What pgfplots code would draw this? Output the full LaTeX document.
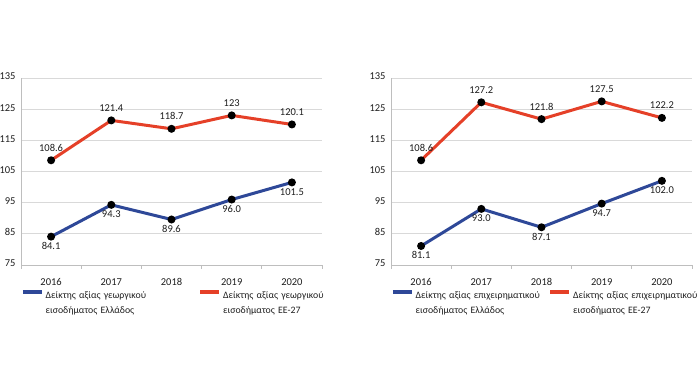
\documentclass[border=0pt]{standalone}
\usepackage{pgfplots}
\pgfplotsset{compat=1.18}
\usepackage{fontspec}
\setmainfont{Carlito}
\definecolor{cred}{RGB}{229,64,40}
\definecolor{cblue}{RGB}{46,72,152}
\definecolor{cgrid}{RGB}{217,217,217}
\definecolor{caxis}{RGB}{190,190,190}
\definecolor{ctext}{RGB}{30,30,30}
\pgfplotsset{mystyle/.style={
  scale only axis, width=301pt, height=187pt, anchor=south west,
  xmin=-0.5, xmax=4.5, ymin=75, ymax=135, ytick={75,85,...,135},
  xtick={0,1,2,3,4}, xticklabels={2016,2017,2018,2019,2020},
  minor xtick={-0.5,0.5,1.5,2.5,3.5,4.5},
  axis x line*=bottom, axis y line*=left, axis line style={caxis,-,line width=0.8pt},
  ymajorgrids, grid style={cgrid, line width=0.8pt},
  major tick length=0pt, minor tick length=4pt, tick align=outside,
  minor tick style={caxis, line width=0.8pt},
  /pgf/number format/assume math mode=true,
  tick label style={font=\fontsize{10.5}{12}\selectfont, text=ctext},
  xticklabel style={yshift=-10pt},
  yticklabel style={xshift=-2pt, yshift=1.5pt},
  point meta=explicit symbolic,
  nodes near coords={\pgfplotspointmeta},
  every node near coord/.append style={font=\fontsize{10.5}{12}\selectfont, text=ctext},
  legend columns=2,
  legend style={at={(0,0)}, anchor=north west, yshift=-22pt, xshift=-3pt, draw=none, fill=none,
    font=\fontsize{9.8}{15}\selectfont, text=ctext,
    /tikz/every even column/.append style={column sep=3pt}},
  legend cell align=left,
  legend image code/.code={\draw[##1, line width=3.5pt, mark=none] (0pt,3.2pt) -- (19pt,3.2pt);},
  every axis plot/.append style={line width=3pt, mark=*, mark size=2.4pt,
    mark options={black, fill=black, draw=none}},
}}
\begin{document}
\begin{tikzpicture}[x=1pt,y=1pt]
\path[use as bounding box] (0,0) rectangle (700,385);
\begin{axis}[mystyle, at={(21pt,120pt)},
  legend style={nodes={text width=148pt, align=left}}]
\addplot[cblue, every node near coord/.append style={anchor=north, yshift=-1pt}]
  coordinates {(0,84.1) [84.1] (1,94.3) [94.3] (2,89.6) [89.6] (3,96.0) [96.0] (4,101.5) [101.5]};
\addlegendentry{\mbox{Δείκτης αξίας γεωργικού}\\εισοδήματος Ελλάδος}
\addplot[cred, every node near coord/.append style={anchor=south, yshift=4pt}]
  coordinates {(0,108.6) [108.6] (1,121.4) [121.4] (2,118.7) [118.7] (3,123.0) [123] (4,120.1) [120.1]};
\addlegendentry{\mbox{Δείκτης αξίας γεωργικού}\\εισοδήματος ΕΕ-27}
\end{axis}
\begin{axis}[mystyle, at={(391pt,120pt)},
  legend style={nodes={text width=128pt, align=left, inner xsep=2pt}}]
\addplot[cblue, every node near coord/.append style={anchor=north, yshift=-1pt}]
  coordinates {(0,81.1) [81.1] (1,93.0) [93.0] (2,87.1) [87.1] (3,94.7) [94.7] (4,102.0) [102.0]};
\addlegendentry{\mbox{Δείκτης αξίας επιχειρηματικού}\\εισοδήματος Ελλάδος}
\addplot[cred, every node near coord/.append style={anchor=south, yshift=4pt}]
  coordinates {(0,108.6) [108.6] (1,127.2) [127.2] (2,121.8) [121.8] (3,127.5) [127.5] (4,122.2) [122.2]};
\addlegendentry[text width=112pt]{\mbox{Δείκτης αξίας επιχειρηματικού}\\εισοδήματος ΕΕ-27}
\end{axis}
\end{tikzpicture}
\end{document}
